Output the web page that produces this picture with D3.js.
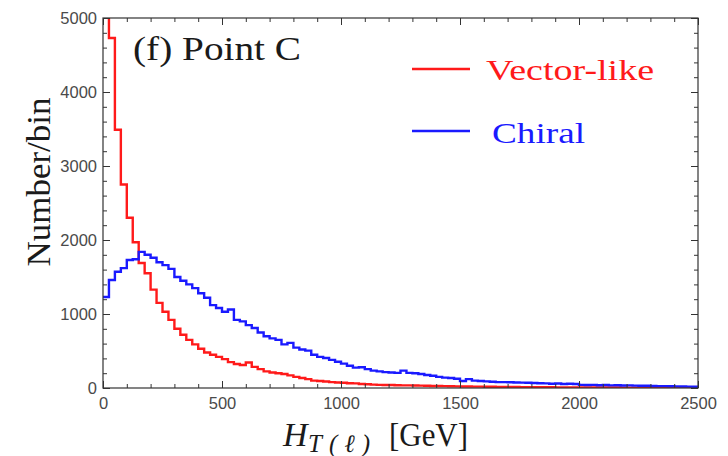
<!DOCTYPE html>
<html>
<head>
<meta charset="utf-8">
<script src="https://cdn.jsdelivr.net/npm/d3@7.9.0/dist/d3.min.js"></script>
<style>
  body { margin: 0; background: #fff; }
  svg { display: block; }
  .tick text { font-family: "Liberation Sans", Arial, sans-serif; font-size: 16.5px; fill: #4a4a4a; }
  .serif { font-family: "Liberation Serif", "Times New Roman", serif; }
</style>
</head>
<body>
<svg width="728" height="456"></svg>
<script>
// histogram bins: 25 GeV wide, from 0 to 2500
const binWidth = 25;
const xMax = 2500;

const vectorLike = [
  5600, 4730, 3490, 2750, 2300, 1970, 1690, 1550, 1330, 1150,
  1030, 920, 800, 720, 650, 590, 530, 480, 450, 420,
  390, 350, 325, 310, 345, 285, 255, 225, 210, 200,
  190, 170, 150, 135, 120, 100, 95, 88, 80, 75,
  70, 65, 62, 55, 50, 45, 42, 40, 40, 38,
  36, 35, 33, 32, 30, 28, 27, 25, 24, 22,
  21, 20, 19, 18, 17, 16, 15, 15, 14, 13,
  12, 12, 11, 11, 10, 10, 9, 9, 8, 8,
  8, 7, 7, 7, 6, 6, 6, 5, 5, 5,
  5, 5, 4, 4, 4, 4, 3, 3, 3, 3
];

const chiral = [
  1230, 1460, 1570, 1620, 1730, 1740, 1840, 1800, 1760, 1700,
  1660, 1610, 1500, 1450, 1400, 1350, 1280, 1220, 1120, 1081,
  1030, 1060, 920, 900, 850, 810, 750, 700, 670, 650,
  590, 610, 545, 520, 505, 450, 420, 405, 380, 355,
  330, 300, 275, 280, 255, 235, 225, 215, 210, 205,
  235, 205, 200, 190, 175, 165, 150, 140, 135, 125,
  95, 120, 100, 95, 90, 85, 80, 80, 78, 75,
  72, 70, 68, 65, 62, 58, 60, 55, 58, 55,
  42, 40, 42, 38, 40, 36, 38, 34, 35, 32,
  30, 30, 28, 26, 25, 24, 22, 20, 18, 16
];

const xMajorTicks = [0, 500, 1000, 1500, 2000, 2500];
const yMajorTicks = [0, 1000, 2000, 3000, 4000, 5000];

const series = [
  { name: "Vector-like", values: vectorLike, color: "#ff1a1a" },
  { name: "Chiral", values: chiral, color: "#1a1aff" }
];

const svg = d3.select("svg");
const plotL = 103, plotR = 698, plotT = 18, plotB = 388;

const x = d3.scaleLinear().domain([0, xMax]).range([plotL, plotR]);
const y = d3.scaleLinear().domain([0, 5000]).range([plotB, plotT]);

const xMinor = d3.range(0, xMax + 1, 100).filter(v => v % 500 !== 0);
const yMinor = d3.range(0, 5001, 200).filter(v => v % 1000 !== 0);

svg.append("clipPath").attr("id", "plot-clip")
  .append("rect").attr("x", plotL).attr("y", plotT)
  .attr("width", plotR - plotL).attr("height", plotB - plotT);

// histogram steps
const step = d3.line()
  .x(d => x(d[0]))
  .y(d => y(d[1]))
  .curve(d3.curveStepAfter);

series.forEach(s => {
  const pts = s.values.map((v, i) => [i * binWidth, v]);
  pts.push([xMax, s.values[s.values.length - 1]]);
  svg.append("path")
    .attr("clip-path", "url(#plot-clip)")
    .attr("d", step(pts))
    .attr("fill", "none")
    .attr("stroke", s.color)
    .attr("stroke-width", 2.4);
});

// frame ticks (pointing inward, mirrored on top and right)
function addAxis(axis, transform, labels) {
  const g = svg.append("g").attr("transform", transform).call(axis);
  g.select(".domain").remove();
  g.selectAll(".tick line").attr("stroke", "#333");
  if (!labels) g.selectAll(".tick text").remove();
  return g;
}

addAxis(d3.axisBottom(x).tickValues(xMajorTicks).tickSize(-7).tickPadding(9).tickFormat(d3.format("d")),
  `translate(0,${plotB})`, true);
addAxis(d3.axisBottom(x).tickValues(xMinor).tickSize(-4), `translate(0,${plotB})`, false);
addAxis(d3.axisTop(x).tickValues(xMajorTicks).tickSize(-7), `translate(0,${plotT})`, false);
addAxis(d3.axisTop(x).tickValues(xMinor).tickSize(-4), `translate(0,${plotT})`, false);

addAxis(d3.axisLeft(y).tickValues(yMajorTicks).tickSize(-7).tickPadding(6).tickFormat(d3.format("d")),
  `translate(${plotL},0)`, true);
addAxis(d3.axisLeft(y).tickValues(yMinor).tickSize(-4), `translate(${plotL},0)`, false);
addAxis(d3.axisRight(y).tickValues(yMajorTicks).tickSize(-7), `translate(${plotR},0)`, false);
addAxis(d3.axisRight(y).tickValues(yMinor).tickSize(-4), `translate(${plotR},0)`, false);

svg.append("rect")
  .attr("x", plotL).attr("y", plotT)
  .attr("width", plotR - plotL).attr("height", plotB - plotT)
  .attr("fill", "none").attr("stroke", "#333").attr("stroke-width", 1.2);

// title inside plot
svg.append("text").attr("class", "serif")
  .attr("x", 133).attr("y", 60)
  .attr("font-size", 34)
  .attr("textLength", 168).attr("lengthAdjust", "spacingAndGlyphs")
  .attr("fill", "#1a1a1a")
  .text("(f) Point C");

// legend
const legendRows = [
  { y: 69, textX: 486, base: 80, len: 168 },
  { y: 131, textX: 492, base: 143, len: 93 }
];
series.forEach((s, i) => {
  const r = legendRows[i];
  svg.append("line")
    .attr("x1", 412).attr("x2", 470)
    .attr("y1", r.y).attr("y2", r.y)
    .attr("stroke", s.color).attr("stroke-width", 2.4);
  svg.append("text").attr("class", "serif")
    .attr("x", r.textX).attr("y", r.base)
    .attr("font-size", 30)
    .attr("textLength", r.len).attr("lengthAdjust", "spacingAndGlyphs")
    .attr("fill", s.color)
    .text(s.name);
});

// axis titles
svg.append("text").attr("class", "serif")
  .attr("transform", "translate(50,182) rotate(-90)")
  .attr("text-anchor", "middle")
  .attr("font-size", 34)
  .attr("textLength", 169).attr("lengthAdjust", "spacingAndGlyphs")
  .attr("fill", "#1a1a1a")
  .text("Number/bin");

// x title: H with subscript T(l), then unit
svg.append("text").attr("class", "serif")
  .attr("x", 283).attr("y", 446)
  .attr("font-size", 34).attr("font-style", "italic")
  .attr("fill", "#1a1a1a")
  .text("H");
svg.append("text").attr("class", "serif")
  .attr("x", 308).attr("y", 452)
  .attr("font-size", 25).attr("font-style", "italic")
  .attr("textLength", 62).attr("lengthAdjust", "spacing")
  .attr("fill", "#1a1a1a")
  .text("T(ℓ)");
svg.append("text").attr("class", "serif")
  .attr("x", 389).attr("y", 446)
  .attr("font-size", 34)
  .attr("textLength", 79).attr("lengthAdjust", "spacingAndGlyphs")
  .attr("fill", "#1a1a1a")
  .text("[GeV]");
</script>
</body>
</html>
